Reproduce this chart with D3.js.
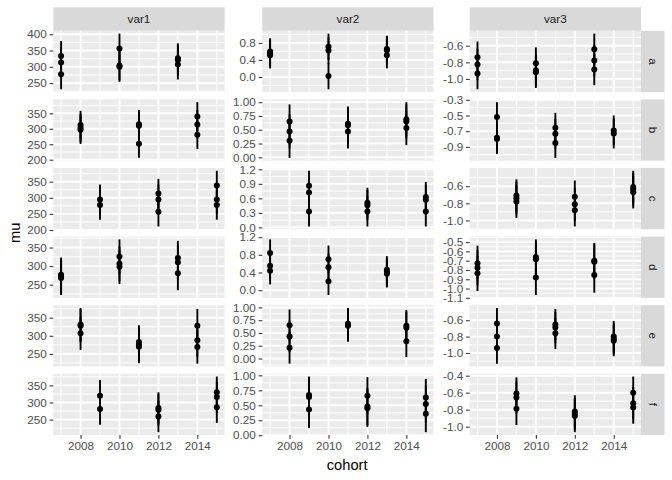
<!DOCTYPE html>
<html lang="en">
<head>
<meta charset="UTF-8">
<script src="https://d3js.org/d3.v7.min.js"></script>
<title>mu by cohort</title>
<style>
  body { margin: 0; background: #fff; }
  text { font-family: "Liberation Sans", Arial, sans-serif; }
</style>
</head>
<body>
<div id="chart"></div>
<script>
// facets
const vars = ["var1", "var2", "var3"];
const groups = ["a", "b", "c", "d", "e", "f"];

// cohorts measured in each row (one list per group)
const cohorts = [
  [2007, 2010, 2013],
  [2008, 2011, 2014],
  [2009, 2012, 2015],
  [2007, 2010, 2013],
  [2008, 2011, 2014],
  [2009, 2012, 2015]
];

// estimates, one list of points per cohort
const muVar1 = [
  [[333, 313, 277], [356, 304, 300], [326, 321, 307]],
  [[312, 303, 297], [315, 310, 252], [340, 314, 281]],
  [[295, 278], [313, 295, 257], [338, 295, 278]],
  [[277, 272, 268], [326, 306, 298], [322, 310, 281]],
  [[331, 328, 307], [283, 276, 270], [328, 288, 269]],
  [[320, 281], [284, 279, 259], [330, 316, 286]]
];
const muVar2 = [
  [[0.60, 0.56, 0.51], [0.71, 0.62, 0.02], [0.66, 0.63, 0.51]],
  [[0.65, 0.47, 0.30], [0.61, 0.58, 0.47], [0.69, 0.65, 0.53]],
  [[0.86, 0.72, 0.33], [0.51, 0.46, 0.33], [0.63, 0.57, 0.33]],
  [[0.84, 0.55, 0.44], [0.70, 0.52, 0.20], [0.46, 0.41, 0.37]],
  [[0.65, 0.43, 0.21], [0.68, 0.66, 0.64], [0.64, 0.60, 0.34]],
  [[0.67, 0.64, 0.43], [0.66, 0.48, 0.45], [0.63, 0.52, 0.36]]
];
const muVar3 = [
  [[-0.74, -0.826, -0.935], [-0.81, -0.895, -0.92], [-0.644, -0.777, -0.886]],
  [[-0.52, -0.785, -0.80], [-0.656, -0.733, -0.85], [-0.69, -0.73]],
  [[-0.71, -0.74, -0.78], [-0.723, -0.812, -0.88], [-0.61, -0.64, -0.67]],
  [[-0.728, -0.775, -0.836], [-0.66, -0.685, -0.88], [-0.70, -0.71, -0.855]],
  [[-0.64, -0.80, -0.94], [-0.652, -0.69, -0.76], [-0.80, -0.83, -0.85]],
  [[-0.61, -0.656, -0.79], [-0.82, -0.85, -0.875], [-0.60, -0.725, -0.775]]
];
// half width of the interval around each estimate
const halfWidth = [46, 0.31, 0.19];

// y tick labels per panel (row = group)
const ticksVar1 = [
  ["250", "300", "350", "400"],
  ["200", "250", "300", "350"],
  ["200", "250", "300", "350"],
  ["250", "300", "350"],
  ["250", "300", "350"],
  ["250", "300", "350"]
];
const ticksVar2 = [
  ["0.0", "0.4", "0.8"],
  ["0.00", "0.25", "0.50", "0.75", "1.00"],
  ["0.0", "0.3", "0.6", "0.9", "1.2"],
  ["0.0", "0.4", "0.8", "1.2"],
  ["0.00", "0.25", "0.50", "0.75", "1.00"],
  ["0.00", "0.25", "0.50", "0.75", "1.00"]
];
const ticksVar3 = [
  ["-1.0", "-0.8", "-0.6"],
  ["-0.9", "-0.7", "-0.5", "-0.3"],
  ["-1.0", "-0.8", "-0.6"],
  ["-1.1", "-1.0", "-0.9", "-0.8", "-0.7", "-0.6", "-0.5"],
  ["-1.0", "-0.8", "-0.6"],
  ["-1.0", "-0.8", "-0.6", "-0.4"]
];
const xTicks = [2008, 2010, 2012, 2014];
const xMinor = [2007, 2009, 2011, 2013, 2015];

const muAll = [muVar1, muVar2, muVar3];
const ticksAll = [ticksVar1, ticksVar2, ticksVar3];

// layout
const width = 672, height = 480;
const colLeft = [53.3, 262.3, 469.7];
const panelW = 171.3;
const top0 = 30.8, panelH = 61.26, gap = 7.33;
const stripH = 23.5;
const rightEdge = colLeft[2] + panelW;

const svg = d3.select("#chart").append("svg")
  .attr("width", width)
  .attr("height", height);

const x = d3.scaleLinear().domain([2007, 2015]);
{
  const pad = (2015 - 2007) * 0.05;
  x.domain([2007 - pad, 2015 + pad]);
}

// strips on top
vars.forEach((v, c) => {
  svg.append("rect")
    .attr("x", colLeft[c]).attr("y", top0 - stripH)
    .attr("width", panelW).attr("height", stripH)
    .attr("fill", "#D9D9D9");
  svg.append("text")
    .attr("x", colLeft[c] + panelW / 2).attr("y", top0 - stripH / 2)
    .attr("dy", "0.35em")
    .attr("text-anchor", "middle")
    .attr("font-size", "11.7px")
    .attr("fill", "#1A1A1A")
    .text(v);
});

groups.forEach((g, r) => {
  const y0 = top0 + r * (panelH + gap);

  // strip on the right
  svg.append("rect")
    .attr("x", rightEdge).attr("y", y0)
    .attr("width", stripH).attr("height", panelH)
    .attr("fill", "#D9D9D9");
  svg.append("text")
    .attr("transform", `translate(${rightEdge + stripH / 2},${y0 + panelH / 2}) rotate(90)`)
    .attr("dy", "0.35em")
    .attr("text-anchor", "middle")
    .attr("font-size", "11.7px")
    .attr("fill", "#1A1A1A")
    .text(g);

  vars.forEach((v, c) => {
    const mu = muAll[c][r];
    const hw = halfWidth[c];
    const labels = ticksAll[c][r];

    // flatten points
    const pts = [];
    mu.forEach((list, k) => {
      list.forEach(m => pts.push({ cohort: cohorts[r][k], mu: m, lo: m - hw, hi: m + hw }));
    });

    const lo = d3.min(pts, d => d.lo), hi = d3.max(pts, d => d.hi);
    const pad = (hi - lo) * 0.05;
    const y = d3.scaleLinear().domain([lo - pad, hi + pad]).range([y0 + panelH, y0]);
    const xs = x.copy().range([colLeft[c], colLeft[c] + panelW]);

    const panel = svg.append("g");
    panel.append("rect")
      .attr("x", colLeft[c]).attr("y", y0)
      .attr("width", panelW).attr("height", panelH)
      .attr("fill", "#EBEBEB");

    // minor y grid: midpoints between majors and one step beyond
    const major = labels.map(Number);
    const step = major[1] - major[0];
    const minorY = [];
    for (let i = -1; i < major.length; i++) minorY.push(major[0] + (i + 0.5) * step);
    const [dlo, dhi] = y.domain();

    panel.selectAll(".ymin").data(minorY.filter(m => m > dlo && m < dhi)).enter()
      .append("line")
      .attr("x1", colLeft[c]).attr("x2", colLeft[c] + panelW)
      .attr("y1", d => y(d)).attr("y2", d => y(d))
      .attr("stroke", "#fff").attr("stroke-width", 0.95);
    panel.selectAll(".xmin").data(xMinor).enter()
      .append("line")
      .attr("x1", d => xs(d)).attr("x2", d => xs(d))
      .attr("y1", y0).attr("y2", y0 + panelH)
      .attr("stroke", "#fff").attr("stroke-width", 0.95);
    panel.selectAll(".ymaj").data(major).enter()
      .append("line")
      .attr("x1", colLeft[c]).attr("x2", colLeft[c] + panelW)
      .attr("y1", d => y(d)).attr("y2", d => y(d))
      .attr("stroke", "#fff").attr("stroke-width", 1.9);
    panel.selectAll(".xmaj").data(xTicks).enter()
      .append("line")
      .attr("x1", d => xs(d)).attr("x2", d => xs(d))
      .attr("y1", y0).attr("y2", y0 + panelH)
      .attr("stroke", "#fff").attr("stroke-width", 1.9);

    // intervals and points
    panel.selectAll(".bar").data(pts).enter()
      .append("line")
      .attr("x1", d => xs(d.cohort)).attr("x2", d => xs(d.cohort))
      .attr("y1", d => y(d.lo)).attr("y2", d => y(d.hi))
      .attr("stroke", "#000").attr("stroke-width", 1.9);
    panel.selectAll(".pt").data(pts).enter()
      .append("circle")
      .attr("cx", d => xs(d.cohort)).attr("cy", d => y(d.mu))
      .attr("r", 3)
      .attr("fill", "#000");

    // y axis
    const yAxis = svg.append("g")
      .attr("transform", `translate(${colLeft[c]},0)`)
      .call(d3.axisLeft(y).tickValues(major).tickSize(3.67).tickPadding(2.9)
        .tickFormat((d, i) => labels[i]));
    yAxis.select(".domain").remove();
    yAxis.selectAll("line").attr("stroke", "#333333").attr("stroke-width", 1.07);
    yAxis.selectAll("text").attr("fill", "#4D4D4D").attr("font-size", "11.7px")
      .attr("font-family", "Liberation Sans, Arial, sans-serif");

    // x axis on the bottom row
    if (r === groups.length - 1) {
      const xAxis = svg.append("g")
        .attr("transform", `translate(0,${y0 + panelH})`)
        .call(d3.axisBottom(xs).tickValues(xTicks).tickSize(3.67).tickPadding(2.9)
          .tickFormat(d3.format("d")));
      xAxis.select(".domain").remove();
      xAxis.selectAll("line").attr("stroke", "#333333").attr("stroke-width", 1.07);
      xAxis.selectAll("text").attr("fill", "#4D4D4D").attr("font-size", "11.7px")
        .attr("font-family", "Liberation Sans, Arial, sans-serif");
    }
  });
});

// axis titles
const panelsBottom = top0 + groups.length * panelH + (groups.length - 1) * gap;
svg.append("text")
  .attr("x", (colLeft[0] + rightEdge) / 2)
  .attr("y", 470)
  .attr("text-anchor", "middle")
  .attr("font-size", "14.7px")
  .attr("fill", "#000")
  .text("cohort");
svg.append("text")
  .attr("transform", `translate(20,${(top0 + panelsBottom) / 2}) rotate(-90)`)
  .attr("text-anchor", "middle")
  .attr("font-size", "14.7px")
  .attr("fill", "#000")
  .text("mu");
</script>
</body>
</html>
